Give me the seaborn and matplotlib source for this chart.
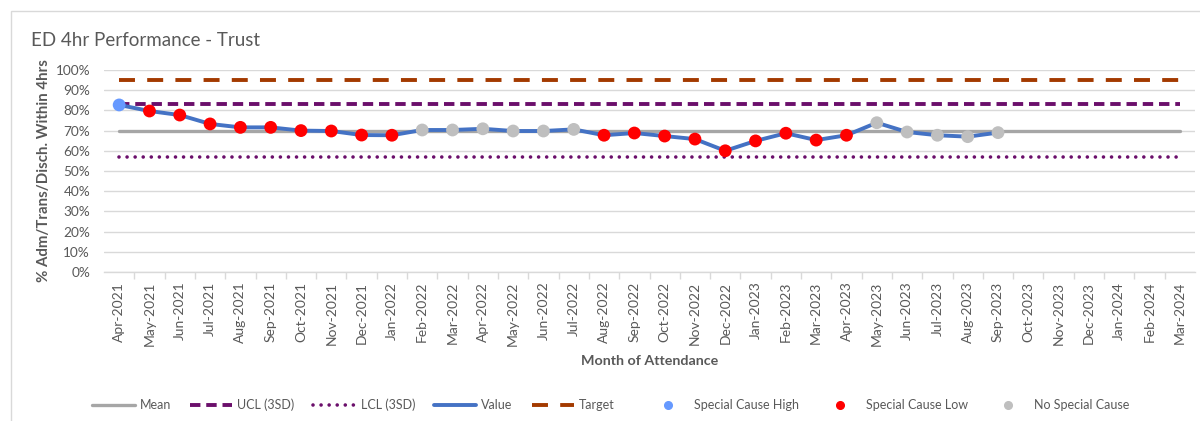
import numpy as np
import pandas as pd
import seaborn as sns
import matplotlib

matplotlib.use("Agg")
import matplotlib.pyplot as plt
from matplotlib.lines import Line2D
from matplotlib.patches import Rectangle

MONTHS = [
    "Apr-2021", "May-2021", "Jun-2021", "Jul-2021", "Aug-2021", "Sep-2021",
    "Oct-2021", "Nov-2021", "Dec-2021", "Jan-2022", "Feb-2022", "Mar-2022",
    "Apr-2022", "May-2022", "Jun-2022", "Jul-2022", "Aug-2022", "Sep-2022",
    "Oct-2022", "Nov-2022", "Dec-2022", "Jan-2023", "Feb-2023", "Mar-2023",
    "Apr-2023", "May-2023", "Jun-2023", "Jul-2023", "Aug-2023", "Sep-2023",
    "Oct-2023", "Nov-2023", "Dec-2023", "Jan-2024", "Feb-2024", "Mar-2024",
]
VALUES = [
    0.827, 0.797, 0.777, 0.733, 0.716, 0.716, 0.700, 0.698, 0.678, 0.677,
    0.703, 0.703, 0.709, 0.698, 0.698, 0.706, 0.677, 0.688, 0.673, 0.658,
    0.600, 0.649, 0.687, 0.653, 0.677, 0.739, 0.693, 0.677, 0.670, 0.690,
]
CAUSE = (
    ["Special Cause High"]
    + ["Special Cause Low"] * 9
    + ["No Special Cause"] * 6
    + ["Special Cause Low"] * 9
    + ["No Special Cause"] * 5
)
MEAN = 0.700
UCL = 0.832
LCL = 0.570
TARGET = 0.95

TEXT = "#595959"
GRID = "#D9D9D9"
C_MEAN = "#A6A6A6"
C_PURPLE = "#6B0F6B"
C_VALUE = "#4472C4"
C_TARGET = "#A33A00"
CAUSE_COLORS = {
    "Special Cause High": "#6699FF",
    "Special Cause Low": "#FF0000",
    "No Special Cause": "#BFBFBF",
}

UCL_DASH = (0, (7.5, 4.2))
LCL_DOTS = (0, (0.01, 5.8))
TARGET_DASH = (0, (11.5, 8.8))

sns.set_theme(style="white")
plt.rcParams["font.family"] = ["Lato", "DejaVu Sans"]
plt.rcParams["lines.scale_dashes"] = False

idx = np.arange(len(MONTHS))
n = len(VALUES)
limits = pd.DataFrame({
    "x": idx,
    "mean": MEAN,
    "ucl": UCL,
    "lcl": LCL,
    "target": TARGET,
})
vals = pd.DataFrame({"x": idx[:n], "value": VALUES, "cause": CAUSE})

fig = plt.figure(figsize=(12, 4.21), dpi=100)
# thin chart-area border (top and left visible)
fig.patches.append(Rectangle((11 / 1200, -0.1), 1.2, 1 - 11 / 421 + 0.1,
                             transform=fig.transFigure, fill=False,
                             edgecolor="#D9D9D9", linewidth=1.0))
ax = fig.add_axes([104 / 1200, 1 - 272 / 421, 1091 / 1200, 202 / 421])

ax.set_ylim(0, 1)
ax.set_xlim(-0.5, len(MONTHS) - 0.5)
yt = np.arange(0, 1.01, 0.1)
ax.set_yticks(yt)
ax.set_yticklabels([f"{int(round(t * 100))}%" for t in yt])
ax.yaxis.grid(True, color=GRID, linewidth=1.0)
ax.set_axisbelow(True)

sns.lineplot(data=limits, x="x", y="mean", color=C_MEAN, linewidth=2.4, ax=ax, legend=False)
sns.lineplot(data=limits, x="x", y="ucl", color=C_PURPLE, linewidth=2.8,
             linestyle=UCL_DASH, ax=ax, legend=False)
sns.lineplot(data=limits, x="x", y="lcl", color=C_PURPLE, linewidth=2.6,
             linestyle=LCL_DOTS, dash_capstyle="round", ax=ax, legend=False)
sns.lineplot(data=limits, x="x", y="target", color=C_TARGET, linewidth=2.8,
             linestyle=TARGET_DASH, ax=ax, legend=False)
sns.lineplot(data=vals, x="x", y="value", color=C_VALUE, linewidth=2.8, ax=ax, legend=False)
sns.scatterplot(data=vals, x="x", y="value", hue="cause", palette=CAUSE_COLORS,
                s=85, linewidth=0, ax=ax, legend=False, zorder=5, clip_on=False)

ax.set_xticks(idx)
ax.set_xticklabels(MONTHS, rotation=90)
ax.set_xticks(idx[:-1] + 0.5, minor=True)
ax.tick_params(axis="x", which="major", length=0, pad=7, labelsize=10, labelcolor=TEXT)
ax.tick_params(axis="x", which="minor", length=5, color=GRID, width=1, bottom=True)
ax.tick_params(axis="y", length=0, pad=10, labelsize=9.8, labelcolor=TEXT)

for s in ["top", "right", "left"]:
    ax.spines[s].set_visible(False)
ax.spines["bottom"].set_color(GRID)
ax.spines["bottom"].set_linewidth(1.0)

ax.set_xlabel("Month of Attendance", fontsize=10.3, fontweight="bold", color=TEXT)
ax.xaxis.set_label_coords(0.5, (272 - 355) / 202)
ax.set_ylabel("% Adm/Trans/Disch. Within 4hrs", fontsize=10.8, fontweight="bold", color=TEXT)
ax.yaxis.set_label_coords((51 - 104) / 1091, 0.5)

fig.text(31 / 1200, 1 - 40 / 421, "ED 4hr Performance - Trust", fontsize=13.5,
         color=TEXT, ha="left", va="center")

line_handles = [
    Line2D([], [], color=C_MEAN, linewidth=2.4),
    Line2D([], [], color=C_PURPLE, linewidth=2.8, linestyle=UCL_DASH),
    Line2D([], [], color=C_PURPLE, linewidth=2.6, linestyle=LCL_DOTS, dash_capstyle="round"),
    Line2D([], [], color=C_VALUE, linewidth=2.8),
    Line2D([], [], color=C_TARGET, linewidth=2.8, linestyle=TARGET_DASH),
]
line_labels = ["Mean", "UCL (3SD)", "LCL (3SD)", "Value", "Target"]
marker_labels = ["Special Cause High", "Special Cause Low", "No Special Cause"]
marker_handles = [
    Line2D([], [], color=CAUSE_COLORS[k], marker="o", linestyle="none", markersize=5.5)
    for k in marker_labels
]

leg_kw = dict(loc="center left", ncol=5, frameon=False, fontsize=9, handlelength=3.4,
              handletextpad=0.4, columnspacing=1.5, borderpad=0, borderaxespad=0)
leg1 = fig.legend(line_handles, line_labels, bbox_to_anchor=(92 / 1200, 1 - 405 / 421), **leg_kw)
leg_kw["ncol"] = 3
leg2 = fig.legend(marker_handles, marker_labels, bbox_to_anchor=(647 / 1200, 1 - 405 / 421), **leg_kw)
for leg in (leg1, leg2):
    for t in leg.get_texts():
        t.set_color(TEXT)

fig.savefig("out.png", dpi=100)
